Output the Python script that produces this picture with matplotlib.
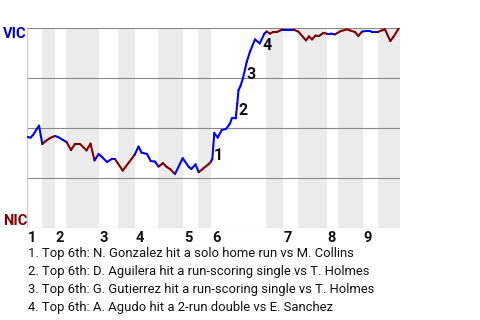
import matplotlib
matplotlib.use("Agg")
import matplotlib.pyplot as plt
from matplotlib.collections import LineCollection
import numpy as np

plt.rcParams['font.family'] = ['Roboto', 'DejaVu Sans']

# ---- data -------------------------------------------------------------
teams = ["VIC", "NIC"]
# play position along the game, VIC win probability (%), team batting on that play
play_x = [0, 3.5, 6, 12, 15.3,
          18, 23, 28,
          31, 36, 39.7,
          44, 48, 53, 59.5, 63.5, 67.5,
          71.7, 75, 80, 84.7, 88,
          95.7, 107.5,
          111.5, 114.5, 120, 123.7, 128, 131.5,
          136, 139.7, 143, 148,
          155.7, 161.5, 164.3, 168.5, 171.7,
          176.3, 181.3, 184,
          185.3, 187.3, 190.7, 194.7, 199, 203, 204.8, 208.7, 210.3, 211.5,
          213.5, 216, 219.7, 223, 228, 232.7, 237.5, 239.7,
          243, 246.3, 249.7, 255.3,
          261, 266.5,
          271.3, 279, 282, 285, 288.5, 292, 296.3, 300,
          304, 308,
          313, 319.7, 323, 328, 331.3, 335,
          339, 343, 345, 351,
          354.7, 358, 363.3, 366.3, 372]
vic_pct = [45.5, 45.2, 46.5, 51.2, 42,
           43.2, 45, 46,
           45.5, 44, 42.9,
           39, 42, 42, 38.8, 42.2, 33.8,
           37, 35.5, 33, 34.5, 34.5,
           28.7, 36.5,
           40.7, 37.7, 37, 33.5, 33.2, 30.7,
           32.4, 30.5, 29.5, 27,
           34.9, 30.7, 29.5, 31.8, 27.9,
           29.8, 31.8, 33.2,
           34.5, 47.5, 45.2, 49, 49.5, 52.2, 54.8, 54.8, 62.3, 69,
           71, 75, 83, 88.2, 94.3, 92.3, 97.3, 98.2,
           97.2, 98, 98, 99.2,
           99.2, 99.2,
           98.2, 93.8, 95.8, 94.3, 96.2, 96, 97.5, 97.2,
           97.2, 96.8,
           98.3, 99.3, 98.8, 98, 96, 98.2,
           98.5, 98.5, 98, 98,
           98.8, 99.3, 93.5, 95.5, 100]
batting = (["VIC"] * 5 + ["NIC"] * 3 + ["VIC"] * 3 + ["NIC"] * 6 + ["VIC"] * 5 +
           ["NIC"] * 2 + ["VIC"] * 6 + ["NIC"] * 4 + ["VIC"] * 5 + ["NIC"] * 3 +
           ["VIC"] * 18 + ["NIC"] * 4 + ["VIC"] * 2 + ["NIC"] * 8 + ["VIC"] * 2 +
           ["NIC"] * 6 + ["VIC"] * 4 + ["NIC"] * 5)

# half-inning boundaries (play position)
half_starts = [0, 15, 28, 39, 72, 91, 108, 131, 156, 171, 184, 239, 256, 271,
               300, 311, 336, 351]
game_end = 373
inning_labels = ["1", "2", "3", "4", "5", "6", "7", "8", "9"]

# key events: label, play position, win prob (label placement)
event_ids = ["1", "2", "3", "4"]
event_x = [191, 216, 224, 239.7]
event_pct = [36.2, 58.7, 76.6, 91.2]
event_text = [
    "1. Top 6th: N. Gonzalez hit a solo home run vs M. Collins",
    "2. Top 6th: D. Aguilera hit a run-scoring single vs T. Holmes",
    "3. Top 6th: G. Gutierrez hit a run-scoring single vs T. Holmes",
    "4. Top 6th: A. Agudo hit a 2-run double vs E. Sanchez",
]

team_colors = {"VIC": "#0000ff", "NIC": "#800000"}

# ---- figure -----------------------------------------------------------
fig = plt.figure(figsize=(4.8, 3.2), dpi=100)
ax = fig.add_axes([27 / 480, 92 / 320, 373 / 480, 200 / 320])
ax.set_xlim(0, game_end)
ax.set_ylim(0, 100)
ax.set_axis_off()

# shaded bottom halves
bounds = half_starts + [game_end]
for i in range(len(half_starts)):
    if i % 2 == 1:
        ax.axvspan(bounds[i], bounds[i + 1], color="#ebebeb", lw=0, zorder=0)

# grid lines
for g in [25, 50, 75, 100]:
    ax.axhline(g, color="#888888", lw=0.8, zorder=1)
ax.axhline(0, color="#c8c8c8", lw=0.8, zorder=1)
ax.axvline(0, color="#c8c8c8", lw=0.8, zorder=1)

# win probability line coloured by team batting
pts = np.column_stack([play_x, vic_pct])
segs = [pts[i:i + 2] for i in range(len(pts) - 1)]
cols = [team_colors[b] for b in batting[1:]]
lc = LineCollection(segs, colors=cols, linewidths=1.5, zorder=3,
                    capstyle="round", joinstyle="round")
ax.add_collection(lc)

# event markers
for lab, ex, ey in zip(event_ids, event_x, event_pct):
    ax.text(ex, ey, lab, ha="center", va="center", fontsize=11.5,
            fontweight="bold", color="#111111", zorder=4)

# inning labels
for lab, i in zip(inning_labels, range(0, len(half_starts), 2)):
    ax.annotate(lab, xy=(half_starts[i], 0), xycoords=("data", "axes fraction"),
                xytext=(0.6, -2.5), textcoords="offset points",
                ha="left", va="top", fontsize=10.5, fontweight="bold",
                color="#111111")

# team labels
fig.text(3 / 480, 1 - 34 / 320, teams[0], ha="left", va="center",
         fontsize=10.5, fontweight="bold", color="#0000cc")
fig.text(3 / 480, 1 - 221 / 320, teams[1], ha="left", va="center",
         fontsize=10.5, fontweight="bold", color="#800000")

# event descriptions
for k, t in enumerate(event_text):
    fig.text(28 / 480, 1 - (254 + 18 * k) / 320, t, ha="left", va="center",
             fontsize=9.4, color="#111111")

fig.savefig("out.png", dpi=100)
